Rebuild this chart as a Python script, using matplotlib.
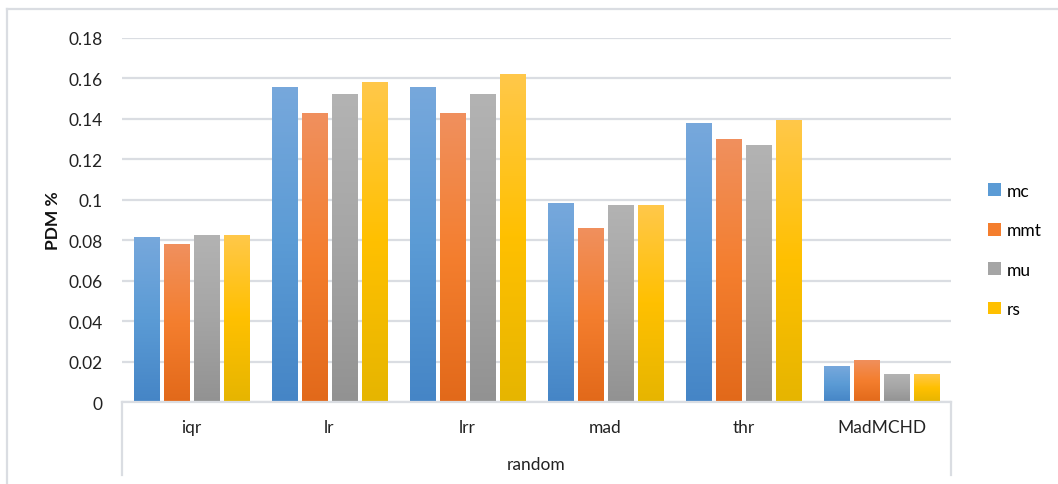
import matplotlib
matplotlib.use("Agg")
import matplotlib.pyplot as plt
import numpy as np
from matplotlib.colors import LinearSegmentedColormap
from matplotlib.patches import Patch
from matplotlib.lines import Line2D

categories = ["iqr", "lr", "lrr", "mad", "thr", "MadMCHD"]
group_label = "random"
series_names = ["mc", "mmt", "mu", "rs"]
mc = [0.0816, 0.1558, 0.1558, 0.0984, 0.1380, 0.0178]
mmt = [0.0781, 0.1429, 0.1429, 0.0861, 0.1300, 0.0208]
mu = [0.0826, 0.1523, 0.1523, 0.0974, 0.1270, 0.0138]
rs = [0.0826, 0.1583, 0.1622, 0.0974, 0.1395, 0.0138]
yticks = [0, 0.02, 0.04, 0.06, 0.08, 0.1, 0.12, 0.14, 0.16, 0.18]
ytick_labels = ["0", "0.02", "0.04", "0.06", "0.08", "0.1", "0.12", "0.14", "0.16", "0.18"]

series = [mc, mmt, mu, rs]
# (top, middle, bottom) gradient colours
grads = [
    ("#77A8DC", "#5B9BD5", "#4585C6"),
    ("#F0905E", "#F47E2E", "#E2691A"),
    ("#B3B3B3", "#A5A5A5", "#929292"),
    ("#FFC84A", "#FFC000", "#E6B500"),
]
mid_colors = [g[1] for g in grads]

plt.rcParams['font.family'] = ['Lato', 'DejaVu Sans']
FS = 12.5

W, H = 1058, 485
fig = plt.figure(figsize=(W / 100, H / 100), dpi=100)
ax = fig.add_axes([122 / W, 1 - 403 / H, (951 - 122) / W, (403 - 39) / H])

x = np.arange(len(categories))
bw = 0.181
step = 0.217
offsets = (np.arange(4) - 1.5) * step

for i, vals in enumerate(series):
    bars = ax.bar(x + offsets[i], vals, width=bw, color="none", edgecolor="none", zorder=3)
    cmap = LinearSegmentedColormap.from_list("g%d" % i, [grads[i][2], grads[i][1], grads[i][0]])
    grad = np.linspace(0, 1, 256).reshape(-1, 1)
    for b in bars:
        x0, w, h = b.get_x(), b.get_width(), b.get_height()
        im = ax.imshow(grad, cmap=cmap, origin="lower", aspect="auto",
                       extent=(x0, x0 + w, 0, h), zorder=3, interpolation="bicubic")
        im.set_clip_path(b)

ax.set_xlim(-0.5, len(categories) - 0.5)
ax.set_ylim(0, 0.18)
ax.set_yticks(yticks)
ax.set_yticklabels(ytick_labels, fontsize=FS, color="#222222")
ax.tick_params(axis="y", length=0, pad=14)
ax.set_xticks([])
ax.grid(axis="y", color="#DADDE2", linewidth=1.6, zorder=0)
for s in ["top", "right", "left"]:
    ax.spines[s].set_visible(False)
ax.spines["bottom"].set_color("#DADDE2")
ax.spines["bottom"].set_linewidth(1.6)
ax.spines["bottom"].set_zorder(4)

ax.set_ylabel("PDM %", fontsize=FS, fontweight="bold", labelpad=4, color="#111111")
ax.yaxis.set_label_coords(-(122 - 61) / (951 - 122), (403 - 221) / (403 - 39))

# category labels
for xi, c in zip(x, categories):
    ax.text(xi, -0.0125, c, ha="center", va="center", fontsize=FS, color="#222222",
            transform=ax.transData, clip_on=False)
ax.text(len(categories) / 2 - 0.5, -0.0307, group_label, ha="center", va="center",
        fontsize=FS, color="#222222", clip_on=False)

# separator lines of category axis
for xl in [0, 1]:
    ax.add_line(Line2D([xl, xl], [0, -(476 - 403) / (403 - 39)], transform=ax.transAxes,
                       color="#DADDE2", linewidth=1.6, clip_on=False))

# chart border (top and left visible)
fig.add_artist(Line2D([7 / W, 1], [1 - 10 / H, 1 - 10 / H], transform=fig.transFigure,
                      color="#DADDE2", linewidth=1.6))
fig.add_artist(Line2D([7 / W, 7 / W], [0, 1 - 10 / H], transform=fig.transFigure,
                      color="#DADDE2", linewidth=1.6))

handles = [Patch(facecolor=c, edgecolor="none") for c in mid_colors]
fig.legend(handles, series_names, loc="center left", bbox_to_anchor=(972 / W, 1 - 251 / H),
           frameon=False, fontsize=FS, handlelength=0.75, handleheight=0.75,
           labelspacing=1.35, handletextpad=0.35)

fig.savefig("out.png", dpi=100)
